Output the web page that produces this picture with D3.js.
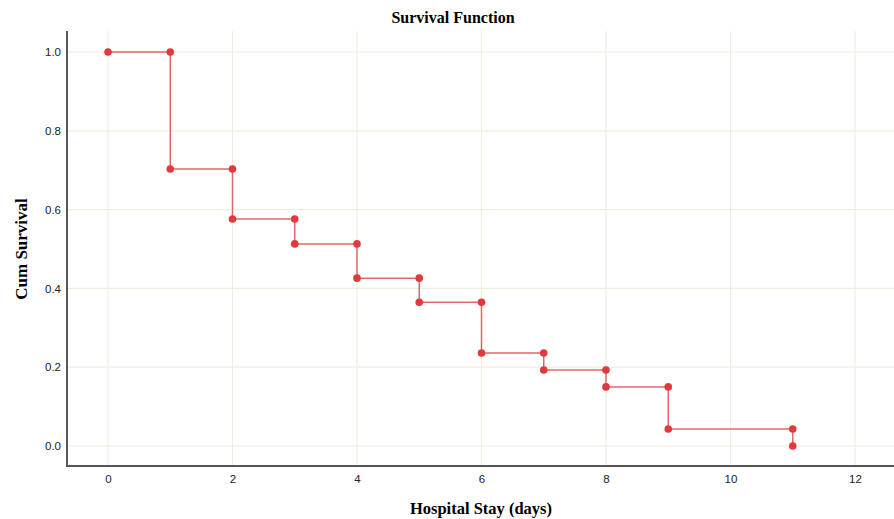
<!DOCTYPE html>
<html>
<head>
<meta charset="utf-8">
<script src="https://cdn.jsdelivr.net/npm/d3@7"></script>
<style>
  body { margin: 0; background: #fff; }
  svg { display: block; }
</style>
</head>
<body>
<script>
// step points of the survival curve (days, cum survival)
let days     = [0, 1, 1, 2, 2, 3, 3, 4, 4, 5, 5, 6, 6, 7, 7, 8, 8, 9, 9, 11, 11];
let survival = [1.0, 1.0, 0.703, 0.703, 0.576, 0.576, 0.513, 0.513, 0.426, 0.426, 0.365,
                0.365, 0.236, 0.236, 0.193, 0.193, 0.150, 0.150, 0.043, 0.043, 0.0];
let xTicks = [0, 2, 4, 6, 8, 10, 12];
let yTicks = [0, 0.2, 0.4, 0.6, 0.8, 1.0];

let w = 894, h = 519;
let padL = 67, padR = 894, padT = 31, padB = 466;

let svg = d3.select('body').append('svg')
    .attr('width', w)
    .attr('height', h);

let x = d3.scaleLinear().domain([0, 12]).range([108, 855]);
let y = d3.scaleLinear().domain([0, 1]).range([446, 52]);

let gridColor = '#efeedd';

// grid
svg.append('g').selectAll('line')
    .data(xTicks)
    .enter().append('line')
    .attr('x1', d => x(d)).attr('x2', d => x(d))
    .attr('y1', padT).attr('y2', padB)
    .attr('stroke', gridColor).attr('stroke-width', 1.2);

svg.append('g').selectAll('line')
    .data(yTicks)
    .enter().append('line')
    .attr('x1', padL).attr('x2', padR)
    .attr('y1', d => y(d)).attr('y2', d => y(d))
    .attr('stroke', gridColor).attr('stroke-width', 1.2);

// axes
let xAxis = svg.append('g')
    .attr('transform', `translate(0,${padB})`)
    .call(d3.axisBottom(x).tickValues(xTicks).tickSize(0).tickPadding(9).tickFormat(d3.format('d')));
xAxis.select('.domain').remove();
xAxis.selectAll('text').style('font-family', 'Arial, "Liberation Sans", sans-serif').style('font-size', '11.5px').attr('fill', '#222');

let yAxis = svg.append('g')
    .attr('transform', `translate(${padL},0)`)
    .call(d3.axisLeft(y).tickValues(yTicks).tickSize(0).tickPadding(6).tickFormat(d3.format('.1f')));
yAxis.select('.domain').remove();
yAxis.selectAll('text').style('font-family', 'Arial, "Liberation Sans", sans-serif').style('font-size', '11.5px').attr('fill', '#222');

svg.append('line')
    .attr('x1', padL).attr('x2', padL)
    .attr('y1', padT).attr('y2', padB + 1)
    .attr('stroke', '#222').attr('stroke-width', 1.5);
svg.append('line')
    .attr('x1', padL).attr('x2', padR)
    .attr('y1', padB).attr('y2', padB)
    .attr('stroke', '#555').attr('stroke-width', 2);

// step line
let pts = days.map((d, i) => [d, survival[i]]);
svg.append('path')
    .datum(pts)
    .attr('fill', 'none')
    .attr('stroke', '#dd6a6a')
    .attr('stroke-width', 1.5)
    .attr('d', d3.line().x(d => x(d[0])).y(d => y(d[1])));

svg.append('g').selectAll('circle')
    .data(pts)
    .enter().append('circle')
    .attr('cx', d => x(d[0]))
    .attr('cy', d => y(d[1]))
    .attr('r', 3.8)
    .attr('fill', '#e0393e');

// titles
svg.append('text')
    .attr('x', 453).attr('y', 23)
    .attr('text-anchor', 'middle')
    .style('font-family', '"Liberation Serif", "Times New Roman", serif')
    .style('font-weight', 'bold').style('font-size', '16px')
    .text('Survival Function');

svg.append('text')
    .attr('x', 481).attr('y', 514)
    .attr('text-anchor', 'middle')
    .style('font-family', '"Liberation Serif", "Times New Roman", serif')
    .style('font-weight', 'bold').style('font-size', '16.5px')
    .text('Hospital Stay (days)');

svg.append('text')
    .attr('transform', 'translate(27,249) rotate(-90)')
    .attr('text-anchor', 'middle')
    .style('font-family', '"Liberation Serif", "Times New Roman", serif')
    .style('font-weight', 'bold').style('font-size', '17px')
    .text('Cum Survival');
</script>
</body>
</html>
